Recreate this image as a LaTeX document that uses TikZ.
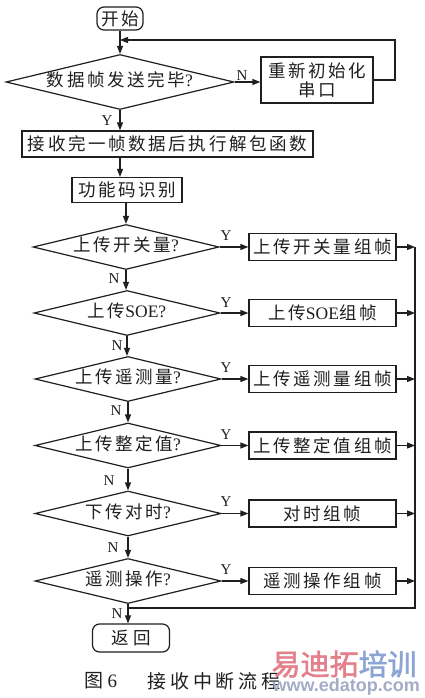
\documentclass[tikz,border=0pt]{standalone}
\usepackage{fontspec}
\setmainfont{Liberation Serif}
\newfontfamily\cjk[LetterSpace=15]{Noto Sans CJK SC}
\newfontfamily\capcjk[LetterSpace=20]{Noto Sans CJK SC}
\newfontfamily\wmfont[FakeBold=2]{Noto Sans CJK SC}
\newfontfamily\wmlat{Liberation Sans}
\newcommand\zhtext[1]{{\cjk #1}}
\usetikzlibrary{shapes.geometric,arrows.meta}
\definecolor{ink}{gray}{0.12}
\definecolor{wmred}{RGB}{228,128,140}
\definecolor{wmblue}{RGB}{140,165,212}
\definecolor{wmgray}{RGB}{165,172,198}
\begin{document}
\begin{tikzpicture}[x=1pt,y=-1pt,color=ink,line width=1.2pt,
  box/.style={draw,rectangle,inner sep=0pt,font=\fontsize{17.5}{20}\selectfont},
  dia/.style={draw,diamond,aspect=4,inner sep=0pt,text height=11pt,text depth=2pt,
     minimum width=186pt,minimum height=45pt,font=\fontsize{17.5}{20}\selectfont},
  term/.style={draw,rectangle,rounded corners=7pt,inner sep=0pt,font=\fontsize{17.5}{20}\selectfont},
  rbox/.style={box,minimum width=147pt,minimum height=27pt},
  arr/.style={-{Triangle[length=8pt,width=6pt]}},
  lab/.style={inner sep=0pt,font=\fontsize{15}{15}\selectfont}]
\useasboundingbox[fill=white] (0,0) rectangle (425,698);

% nodes
\node[term,minimum width=46pt,minimum height=23pt] (start) at (120,18.5) {\zhtext{开始}};
\node[dia,minimum width=228pt,minimum height=55pt] (d1) at (120,82) {\zhtext{数据帧发送完毕}?};
\node[box,minimum width=112pt,minimum height=46pt,align=center] (re) at (317,80) {\zhtext{重新初始化}\\[-1pt]\zhtext{串\,口}};
\node[box,minimum width=291pt,minimum height=26pt] (b1) at (167.5,144) {\zhtext{接收完一帧数据后执行解包函数}};
\node[box,minimum width=110pt,minimum height=25pt] (fn) at (127,190) {\zhtext{功能码识别}};

\node[dia] (d2) at (126,247) {\zhtext{上传开关量}?};
\node[dia] (d3) at (127,313) {\zhtext{上传}SOE?};
\node[dia] (d4) at (128,379) {\zhtext{上传遥测量}?};
\node[dia] (d5) at (128,445.5) {\zhtext{上传整定值}?};
\node[dia] (d6) at (128,513.5) {\zhtext{下传对时}?};
\node[dia] (d7) at (128,581) {\zhtext{遥测操作}?};

\node[rbox] (r2) at (322.5,247) {\zhtext{上传开关量组帧}};
\node[rbox] (r3) at (322.5,313) {\zhtext{上传}SOE\zhtext{组帧}};
\node[rbox] (r4) at (322.5,379) {\zhtext{上传遥测量组帧}};
\node[rbox] (r5) at (322.5,445.5) {\zhtext{上传整定值组帧}};
\node[rbox] (r6) at (322.5,513.5) {\zhtext{对时组帧}};
\node[rbox] (r7) at (322.5,581) {\zhtext{遥测操作组帧}};

\node[term,minimum width=77pt,minimum height=28pt] (ret) at (131,638) {\zhtext{返\hspace{5pt}回}};

% connectors
\coordinate (lp) at (395,40);
\draw[arr] (start.south) -- (d1.north);
\draw[arr] (d1.east) -- (d1.east -| re.west);
\draw[arr] (re.east) -| (lp) -- (lp -| start.south);
\draw[arr] (d1.south) -- (d1.south |- b1.north);
\draw[arr] (b1.south -| d1.south) -- (d1.south |- fn.north);
\draw[arr] (fn.south -| d2.north) -- (d2.north);
\draw[arr] (d2.south) -- (d2.south |- d3.north);
\draw[arr] (d3.south) -- (d3.south |- d4.north);
\draw[arr] (d4.south) -- (d5.north);
\draw[arr] (d5.south) -- (d6.north);
\draw[arr] (d6.south) -- (d7.north);
\draw[arr] (d7.south) -- (d7.south |- ret.north);
\foreach \i in {2,...,7}{
  \draw[arr] (d\i.east) -- (d\i.east -| r\i.west);
}
\coordinate (rt) at (415,247);
\coordinate (rb) at (415,608);
\foreach \i in {2,...,7}{
  \draw[arr] (r\i.east) -- (r\i.east -| rt);
}
\draw (rt) -- (rb) -- (rb -| d7.south);

% labels
\node[lab] (n1) at (242,76) {N};
\node[lab] (y1) at (107,121) {Y};
\foreach \i/\yy in {2/236,3/303,4/368,5/435,6/502,7/570}{
  \node[lab] (y\i) at (226,\yy) {Y};
}
\node[lab] (n2) at (114,279) {N};
\node[lab] (n3) at (117,346) {N};
\node[lab] (n4) at (116,411) {N};
\node[lab] (n5) at (109,481) {N};
\node[lab] (n6) at (113,548) {N};
\node[lab] (n7) at (117,614) {N};

% caption
\node[inner sep=0pt,anchor=west,font=\fontsize{19}{20}\selectfont] (cap1) at (84,681) {{\capcjk 图}\hspace{4pt}6};
\node[inner sep=0pt,anchor=west,font=\fontsize{19}{20}\selectfont] (cap2) at (147,681) {{\capcjk 接收中断流程}};

% watermark
\node[inner sep=0pt,anchor=west,font=\fontsize{29}{30}\selectfont] (wm1) at (271,664) {\wmfont\textcolor{wmred}{易迪拓}\textcolor{wmblue}{培训}};
\node[inner sep=0pt,anchor=west,font=\fontsize{18}{20}\selectfont] (wm2) at (272,687) {\wmlat\bfseries\textcolor{wmgray}{www.edatop.com}};
\end{tikzpicture}
\end{document}
